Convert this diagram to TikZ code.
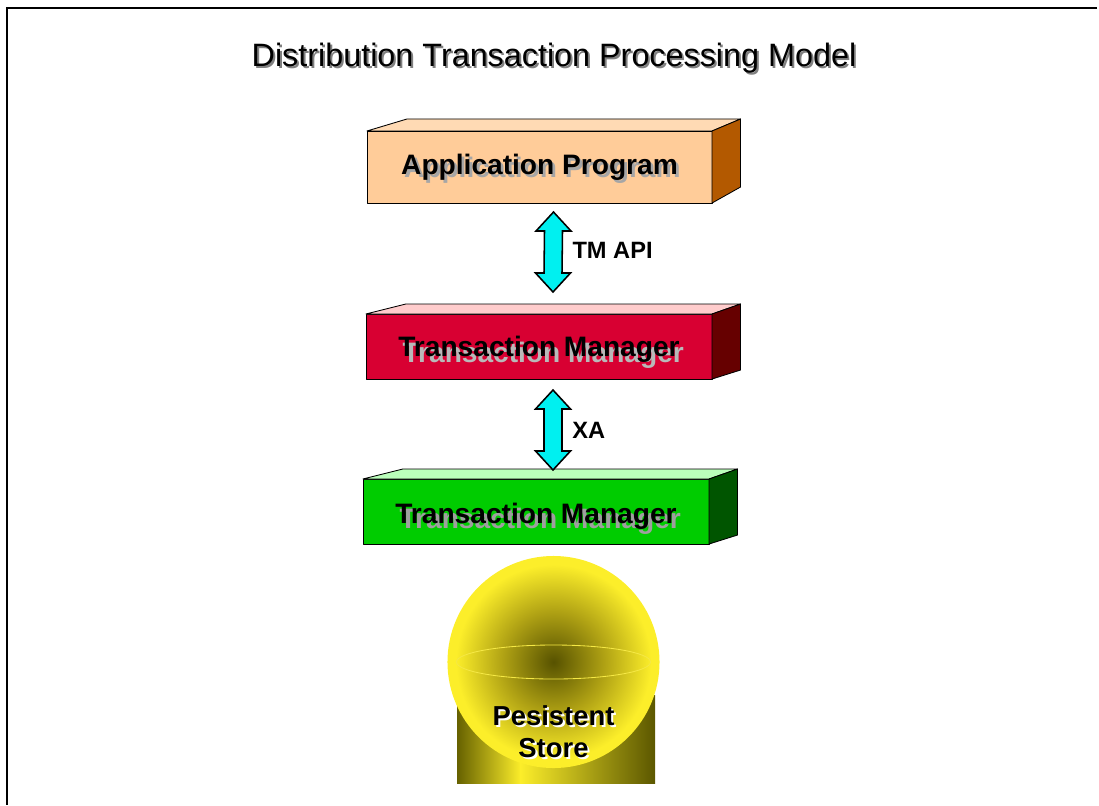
\documentclass[tikz,border=0pt]{standalone}
\usepackage{fontspec}
\setmainfont{Liberation Sans}
\usetikzlibrary{calc}
\definecolor{apfront}{HTML}{FFCC99}
\definecolor{aptop}{HTML}{FFDAB4}
\definecolor{apside}{HTML}{B35900}
\definecolor{tmfront}{HTML}{D80032}
\definecolor{tmtop}{HTML}{FFCCCC}
\definecolor{tmside}{HTML}{660000}
\definecolor{rmfront}{HTML}{00CC00}
\definecolor{rmtop}{HTML}{BBFFBB}
\definecolor{rmside}{HTML}{005500}
\definecolor{apicyan}{HTML}{00F0F0}
\definecolor{storecore}{HTML}{575200}
\definecolor{storemid}{HTML}{B0A214}
\definecolor{storeglow}{HTML}{FCEE2A}
\definecolor{storeedge}{HTML}{666100}
\definecolor{storering}{HTML}{F5E845}
\pgfdeclareradialshading{globe}{\pgfpoint{0bp}{0bp}}{color(0bp)=(storecore); color(12bp)=(storemid); color(23bp)=(storeglow); color(50bp)=(storeglow)}
% text with an offset copy behind it
\newcommand{\dropped}[4]{\makebox[0pt][l]{\smash{\hspace*{#1}\raisebox{-#2}{\textcolor{#3}{#4}}}}#4}
% top and side faces of a slab, #4 = rise of the back edge, #5 = rise of the back foot
\newcommand{\slabfaces}[5]{%
	\filldraw[slab edge, fill=#2] (#1.north west) -- ++(40,-#4) -- ($(#1.north east)+(28.5,-#4)$) -- (#1.north east) -- cycle;
	\filldraw[slab edge, fill=#3] (#1.north east) -- ++(28.5,-#4) -- ($(#1.south east)+(28.5,-#5)$) -- (#1.south east) -- cycle;}
% fat two-headed arrow between two tips
\newcommand{\bothway}[2]{%
	\filldraw[fatarrow] (#1) -- ++(17.5,19) -- ++(-8.5,0) -- ($(#2)+(9,-19)$) -- ++(8.5,0) -- (#2)
		-- ++(-17.5,-19) -- ++(8.5,0) -- ($(#1)+(-9,19)$) -- ++(-8.5,0) -- cycle;}

\begin{document}
\begin{tikzpicture}[x=0.025cm, y=-0.025cm,
	slab edge/.style={draw=black, line width=0.6pt, line join=round},
	slab/.style={slab edge, outer sep=0pt, inner sep=0pt, minimum width=8.65cm, minimum height=1.625cm, text depth=0pt, font=\fontsize{20}{24}\selectfont\bfseries},
	fatarrow/.style={draw=black, fill=apicyan, line width=1.1pt, line join=miter},
	iface/.style={inner sep=0pt, font=\fontsize{16.8}{20}\selectfont\bfseries},
	storetext/.style={inner sep=0pt, align=center, font=\fontsize{19.5}{22.8}\selectfont\bfseries}]
	\useasboundingbox (0,0) rectangle (1099,805);
	\draw[line width=1.4pt] (1097,8) -- (7,8) -- (7,805);
	\node[font=\fontsize{23}{27}\selectfont] (title) at (554,58) {\dropped{1.4pt}{1.4pt}{gray}{Distribution Transaction Processing Model}};

	\node[slab, fill=apfront, minimum width=8.625cm, minimum height=1.8cm, text height=10.5pt] (apbox) at (539.5,167) {\dropped{2pt}{2pt}{gray!70}{Application Program}};
	\slabfaces{apbox}{aptop}{apside}{12}{16}
	\node[slab, fill=tmfront, text height=14.5pt] (tmbox) at (539,346.5) {\dropped{3pt}{4pt}{gray!55}{Transaction Manager}};
	\slabfaces{tmbox}{tmtop}{tmside}{10}{9}
	\node[slab, fill=rmfront, text height=16.5pt] (rmbox) at (536,511.5) {\dropped{3pt}{4pt}{gray!75}{Transaction Manager}};
	\slabfaces{rmbox}{rmtop}{rmside}{10}{9}

	\coordinate (api-up) at ($(apbox.south)+(14,9)$);
	\coordinate (api-down) at ($(tmbox.north)+(14,-22)$);
	\bothway{api-up}{api-down}
	\node[iface, right] (api) at ($(api-up)!0.5!(api-down)+(19,-2)$) {TM API};
	\coordinate (xa-up) at ($(tmbox.south)+(14,11)$);
	\coordinate (xa-down) at ($(rmbox.north)+(17,-9)$);
	\bothway{xa-up}{xa-down}
	\node[iface, right] (xa) at ($(xa-up)!0.5!(xa-down)+(19,0)$) {XA};

	% store: drum behind a globe
	\shade[left color=storeedge, right color=storeglow] (457,695) rectangle (521,783);
	\shade[left color=storeglow, right color=storeedge!90!black] (520,695) rectangle (655,783);
	\node[circle, shade, shading=globe, minimum size=5.3cm, inner sep=0pt] (store) at (553.5,662) {};
	\draw[storering, line width=0.6pt] (store.center) ellipse [x radius=2.425cm, y radius=0.425cm];
	\node[storetext] (storelabel) at ($(store.center)+(0,70)$) {\dropped{1.5pt}{1.5pt}{white}{Pesistent}\\\dropped{1.5pt}{1.5pt}{white}{Store}};
\end{tikzpicture}
\end{document}
